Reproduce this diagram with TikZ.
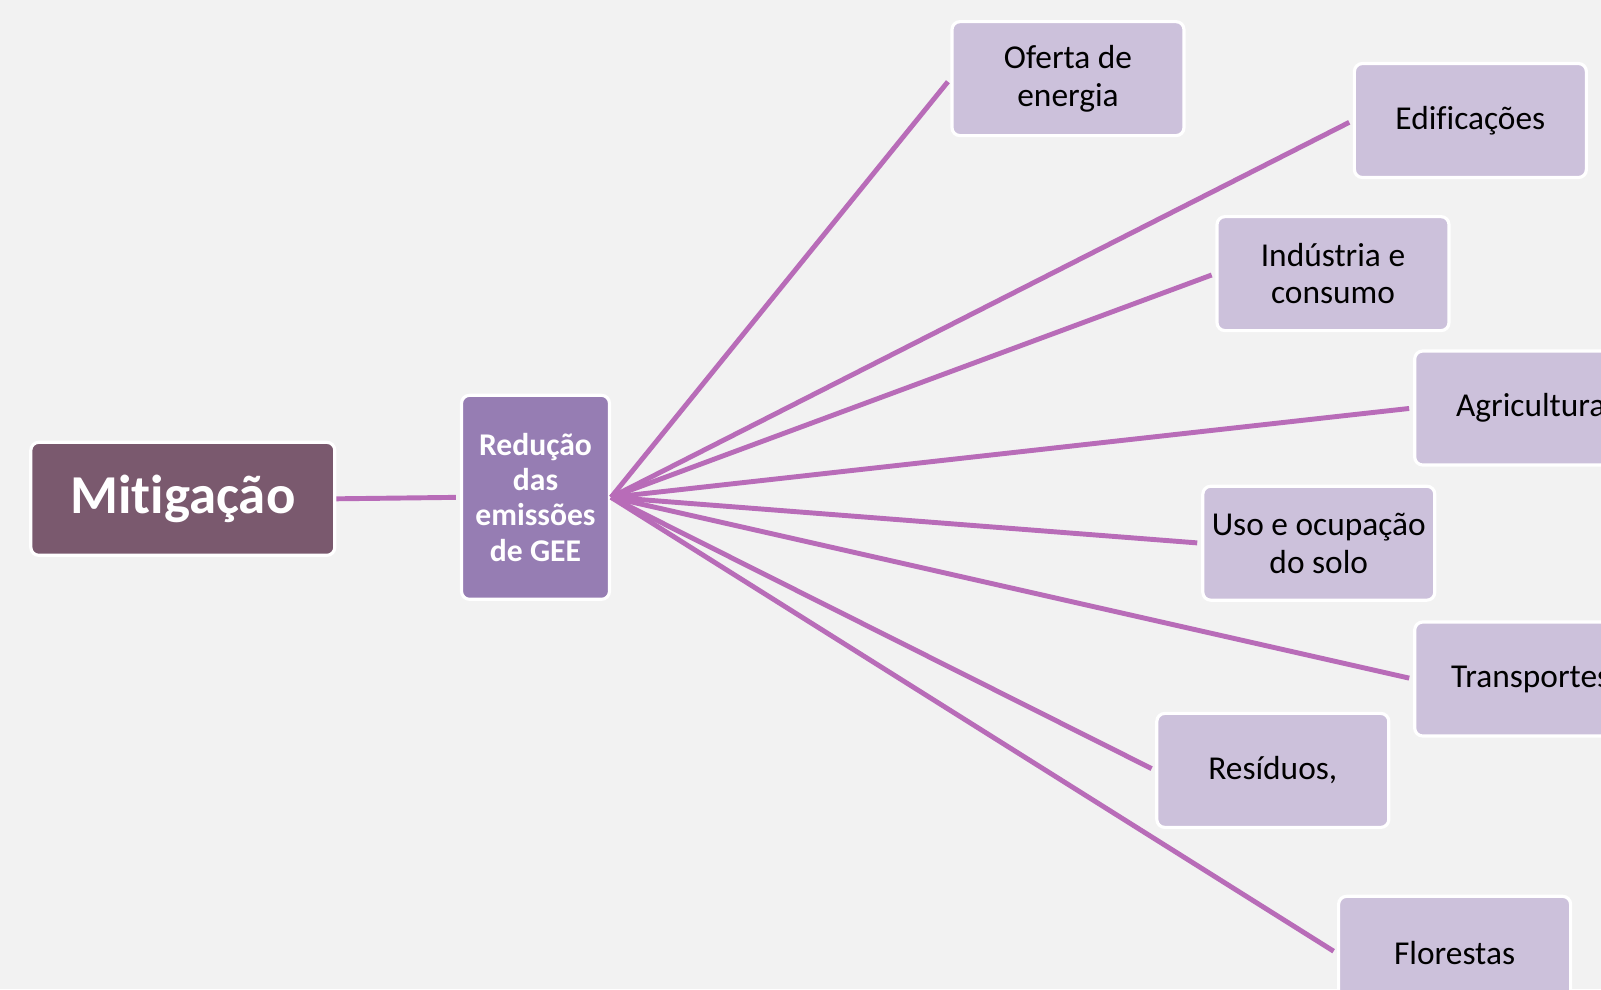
\documentclass[tikz,border=0pt]{standalone}
\usepackage{fontspec}
\setmainfont[Ligatures=NoCommon]{Carlito}
\usepackage{tikz}
\definecolor{bgcol}{HTML}{F2F2F2}
\definecolor{rootcol}{HTML}{7A596E}
\definecolor{midcol}{HTML}{967DB3}
\definecolor{leafcol}{HTML}{CCC1DB}
\definecolor{linkcol}{HTML}{B86CB8}
\tikzset{
  box/.style={rectangle,rounded corners=0.08cm,draw=white,line width=0.9pt,align=center,inner sep=0pt},
  rootbox/.style={box,fill=rootcol,text=white,minimum width=3.04cm,minimum height=1.13cm,font=\fontsize{15.6}{18}\selectfont\bfseries},
  midbox/.style={box,fill=midcol,text=white,minimum width=1.48cm,minimum height=2.04cm,font=\fontsize{9}{10}\selectfont\bfseries},
  leafbox/.style={box,fill=leafcol,text=black,minimum width=2.32cm,minimum height=1.14cm,font=\fontsize{9.5}{10.7}\selectfont},
  link/.style={linkcol,line width=1.4pt,shorten >=0.04cm}
}
\begin{document}
\begin{tikzpicture}

\useasboundingbox (0,0) rectangle (16.01,-9.89);
\clip (0,0) rectangle (16.01,-9.89);
\fill[bgcol] (0,0) rectangle (16.01,-9.89); %background

%some boxes
\node[rootbox] (mitig) at (1.828,-4.988){Mitiga\c{c}\~ao};
\node[midbox] (reduc) at (5.355,-4.973){Redu\c{c}\~ao\\das\\emiss\~oes\\de GEE};
\node[leafbox] (oferta) at (10.68,-0.786){Oferta de\\energia};
\node[leafbox] (edif) at (14.704,-1.205){Edifica\c{c}\~oes};
\node[leafbox] (indust) at (13.33,-2.736){Ind\'ustria e\\consumo};
\node[leafbox] (agric) at (15.307,-4.08){Agricultura};
\node[leafbox] (uso) at (13.188,-5.432){Uso e ocupa\c{c}\~ao\\do solo};
\node[leafbox] (transp) at (15.307,-6.79){Transportes};
\node[leafbox] (resid) at (12.728,-7.704){Res\'iduos,};
\node[leafbox] (flor) at (14.546,-9.533){Florestas};

%some lines
\draw[link] (mitig.east)--(reduc.west);
\draw[link] (reduc.east)--(oferta.west);
\draw[link] (reduc.east)--(edif.west);
\draw[link] (reduc.east)--(indust.west);
\draw[link] (reduc.east)--(agric.west);
\draw[link] (reduc.east)--(uso.west);
\draw[link] (reduc.east)--(transp.west);
\draw[link] (reduc.east)--(resid.west);
\draw[link] (reduc.east)--(flor.west);
\end{tikzpicture}
\end{document}
